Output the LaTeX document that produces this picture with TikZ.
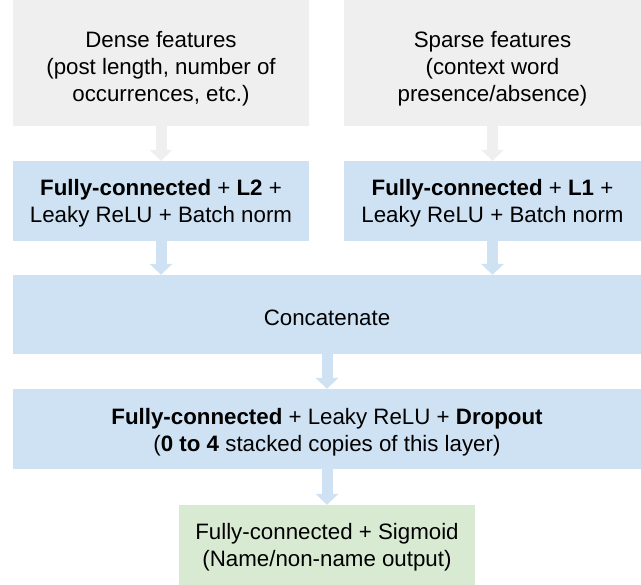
\documentclass[tikz,border=0pt]{standalone}
\usepackage{fontspec}
\setmainfont{Liberation Sans}
\usetikzlibrary{arrows.meta}
\definecolor{boxgray}{HTML}{EFEFEF}
\definecolor{boxblue}{HTML}{CFE2F3}
\definecolor{boxgreen}{HTML}{D9EAD3}
\begin{document}
\begin{tikzpicture}[x=1pt,y=-1pt,
  box/.style={rectangle, inner sep=0pt, draw=none},
  txt/.style={inner sep=0pt, align=center, font=\fontsize{22.3}{27}\selectfont},
  blockarrow/.style={line width=11pt,
    -{Triangle[width=23pt,length=11pt,line width=0pt]}}
]
\useasboundingbox (0,0) rectangle (641,585);
\node[box, fill=boxgray, minimum width=296pt, minimum height=126pt] (dense) at (161,63) {};
\node[box, fill=boxgray, minimum width=297pt, minimum height=126pt] (sparse) at (492.5,63) {};
\node[box, fill=boxblue, minimum width=296pt, minimum height=80pt] (fcl2) at (161,201) {};
\node[box, fill=boxblue, minimum width=297pt, minimum height=80pt] (fcl1) at (492.5,201) {};
\node[box, fill=boxblue, minimum width=628pt, minimum height=79pt] (concat) at (327,314.5) {};
\node[box, fill=boxblue, minimum width=628pt, minimum height=80pt] (drop) at (327,429) {};
\node[box, fill=boxgreen, minimum width=296pt, minimum height=80pt] (out) at (327,545) {};
\node[txt] (densetxt) at ([yshift=-6pt]dense.center)
  {Dense features\\(post length, number of\\occurrences, etc.)};
\node[txt] (sparsetxt) at ([yshift=-6pt]sparse.center)
  {Sparse features\\(context word\\presence/absence)};
\node[txt] (fcl2txt) at ([yshift=-2.5pt]fcl2.center)
  {\textbf{Fully-connected} + \textbf{L2} +\\Leaky ReLU + Batch norm};
\node[txt] (fcl1txt) at ([yshift=-2.5pt]fcl1.center)
  {\textbf{Fully-connected} + \textbf{L1} +\\Leaky ReLU + Batch norm};
\node[txt] (concattxt) at ([yshift=-3pt]concat.center) {Concatenate};
\node[txt] (droptxt) at ([yshift=-3pt]drop.center)
  {\textbf{Fully-connected} + Leaky ReLU + \textbf{Dropout}\\(\textbf{0 to 4} stacked copies of this layer)};
\node[txt] (outtxt) at ([yshift=-2pt]out.center)
  {Fully-connected + Sigmoid\\(Name/non-name output)};
\draw[blockarrow, boxgray] (dense.south) -- (fcl2.north);
\draw[blockarrow, boxgray] (sparse.south) -- (fcl1.north);
\draw[blockarrow, boxblue] (fcl2.south) -- (fcl2.south |- concat.north);
\draw[blockarrow, boxblue] (fcl1.south) -- (fcl1.south |- concat.north);
\draw[blockarrow, boxblue] (concat.south) -- (drop.north);
\draw[blockarrow, boxblue] (drop.south) -- (out.north);
\end{tikzpicture}
\end{document}
